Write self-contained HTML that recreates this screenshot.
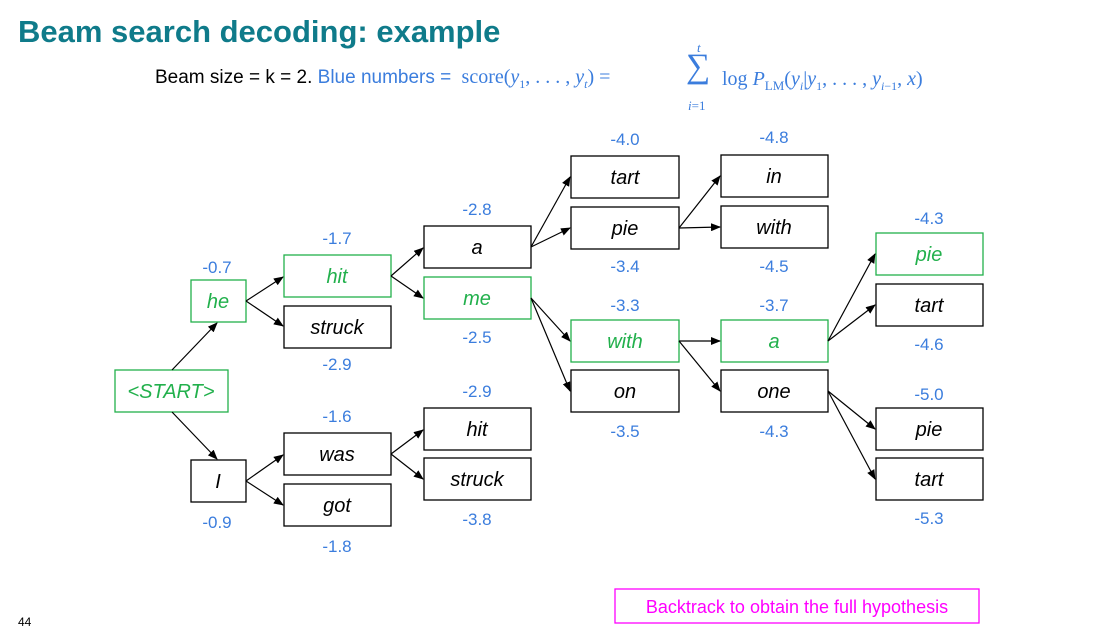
<!DOCTYPE html>
<html><head><meta charset="utf-8"><style>
body{margin:0;width:1101px;height:636px;background:#fff;overflow:hidden;font-family:"Liberation Sans",sans-serif}
.t{position:absolute;left:18px;top:14px;font-size:31px;font-weight:bold;color:#0f7b8a}
.sub{position:absolute;left:155px;top:66px;font-size:19px;color:#000;white-space:nowrap}
.b{color:#3b7ddd}
.f{font-family:"Liberation Serif",serif;color:#3b7ddd;font-size:20px}
</style></head><body>
<div class="t">Beam search decoding: example</div>
<div class="sub">Beam size = k = 2. <span class="b">Blue numbers =</span> <span class="f">&nbsp;score(<i>y</i><sub style="font-size:12px">1</sub>, . . . , <i>y<sub style="font-size:12px">t</sub></i>) = </span></div>
<div class="f" style="position:absolute;left:686px;top:48px;font-size:34px">∑</div>
<div class="f" style="position:absolute;left:697px;top:40px;font-size:13px"><i>t</i></div>
<div class="f" style="position:absolute;left:688px;top:98px;font-size:13px"><i>i</i>=1</div>
<div class="f" style="position:absolute;left:722px;top:68px;white-space:nowrap">log <i>P</i><sub style="font-size:13px">LM</sub>(<i>y<sub style="font-size:12px">i</sub></i>|<i>y</i><sub style="font-size:12px">1</sub>, . . . , <i>y</i><sub style="font-size:12px"><i>i</i>−1</sub>, <i>x</i>)</div>
<svg width="1101" height="636" style="position:absolute;left:0;top:0">
<defs><marker id="a" markerWidth="10" markerHeight="8" refX="9" refY="4" orient="auto" markerUnits="userSpaceOnUse"><path d="M0,0 L10,4 L0,8z" fill="#000"/></marker></defs>
<g fill="#fff" stroke-width="1.3">
<rect x="115" y="370" width="113" height="42" stroke="#22b04c"/>
<rect x="191" y="280" width="55" height="42" stroke="#22b04c"/>
<rect x="191" y="460" width="55" height="42" stroke="#000"/>
<rect x="284" y="255" width="107" height="42" stroke="#22b04c"/>
<rect x="284" y="306" width="107" height="42" stroke="#000"/>
<rect x="284" y="433" width="107" height="42" stroke="#000"/>
<rect x="284" y="484" width="107" height="42" stroke="#000"/>
<rect x="424" y="226" width="107" height="42" stroke="#000"/>
<rect x="424" y="277" width="107" height="42" stroke="#22b04c"/>
<rect x="424" y="408" width="107" height="42" stroke="#000"/>
<rect x="424" y="458" width="107" height="42" stroke="#000"/>
<rect x="571" y="156" width="108" height="42" stroke="#000"/>
<rect x="571" y="207" width="108" height="42" stroke="#000"/>
<rect x="571" y="320" width="108" height="42" stroke="#22b04c"/>
<rect x="571" y="370" width="108" height="42" stroke="#000"/>
<rect x="721" y="155" width="107" height="42" stroke="#000"/>
<rect x="721" y="206" width="107" height="42" stroke="#000"/>
<rect x="721" y="320" width="107" height="42" stroke="#22b04c"/>
<rect x="721" y="370" width="107" height="42" stroke="#000"/>
<rect x="876" y="233" width="107" height="42" stroke="#22b04c"/>
<rect x="876" y="284" width="107" height="42" stroke="#000"/>
<rect x="876" y="408" width="107" height="42" stroke="#000"/>
<rect x="876" y="458" width="107" height="42" stroke="#000"/>
<rect x="615" y="589" width="364" height="34" stroke="#f0f"/>
</g>
<g stroke="#000" stroke-width="1.2" marker-end="url(#a)" fill="none">
<line x1="172" y1="370" x2="217" y2="323"/>
<line x1="172" y1="412" x2="217" y2="459"/>
<line x1="246" y1="301" x2="283" y2="277"/>
<line x1="246" y1="301" x2="283" y2="326"/>
<line x1="246" y1="481" x2="283" y2="455"/>
<line x1="246" y1="481" x2="283" y2="505"/>
<line x1="391" y1="276" x2="423" y2="248"/>
<line x1="391" y1="276" x2="423" y2="298"/>
<line x1="391" y1="454" x2="423" y2="430"/>
<line x1="391" y1="454" x2="423" y2="479"/>
<line x1="531" y1="247" x2="570" y2="177"/>
<line x1="531" y1="247" x2="570" y2="228"/>
<line x1="531" y1="298" x2="570" y2="341"/>
<line x1="531" y1="298" x2="570" y2="391"/>
<line x1="679" y1="228" x2="720" y2="176"/>
<line x1="679" y1="228" x2="720" y2="227"/>
<line x1="679" y1="341" x2="720" y2="341"/>
<line x1="679" y1="341" x2="720" y2="391"/>
<line x1="828" y1="341" x2="875" y2="254"/>
<line x1="828" y1="341" x2="875" y2="305"/>
<line x1="828" y1="391" x2="875" y2="429"/>
<line x1="828" y1="391" x2="875" y2="479"/>
</g>
<g font-family="Liberation Sans,sans-serif" font-style="italic" font-size="20" text-anchor="middle">
<text x="171" y="398" fill="#22b04c">&lt;START&gt;</text>
<text x="218" y="308" fill="#22b04c">he</text>
<text x="218" y="488">I</text>
<text x="337" y="283" fill="#22b04c">hit</text>
<text x="337" y="334">struck</text>
<text x="337" y="461">was</text>
<text x="337" y="512">got</text>
<text x="477" y="254">a</text>
<text x="477" y="305" fill="#22b04c">me</text>
<text x="477" y="436">hit</text>
<text x="477" y="486">struck</text>
<text x="625" y="184">tart</text>
<text x="625" y="235">pie</text>
<text x="625" y="348" fill="#22b04c">with</text>
<text x="625" y="398">on</text>
<text x="774" y="183">in</text>
<text x="774" y="234">with</text>
<text x="774" y="348" fill="#22b04c">a</text>
<text x="774" y="398">one</text>
<text x="929" y="261" fill="#22b04c">pie</text>
<text x="929" y="312">tart</text>
<text x="929" y="436">pie</text>
<text x="929" y="486">tart</text>
</g>
<g font-family="Liberation Sans,sans-serif" font-size="17" fill="#3b7ddd" text-anchor="middle">
<text x="217" y="273">-0.7</text><text x="217" y="528">-0.9</text>
<text x="337" y="244">-1.7</text><text x="337" y="370">-2.9</text>
<text x="337" y="422">-1.6</text><text x="337" y="552">-1.8</text>
<text x="477" y="215">-2.8</text><text x="477" y="343">-2.5</text>
<text x="477" y="397">-2.9</text><text x="477" y="525">-3.8</text>
<text x="625" y="145">-4.0</text><text x="625" y="272">-3.4</text>
<text x="625" y="311">-3.3</text><text x="625" y="437">-3.5</text>
<text x="774" y="143">-4.8</text><text x="774" y="272">-4.5</text>
<text x="774" y="311">-3.7</text><text x="774" y="437">-4.3</text>
<text x="929" y="224">-4.3</text><text x="929" y="350">-4.6</text>
<text x="929" y="400">-5.0</text><text x="929" y="524">-5.3</text>
</g>
<text x="797" y="613" font-family="Liberation Sans,sans-serif" font-size="18" fill="#f0f" text-anchor="middle">Backtrack to obtain the full hypothesis</text>
<text x="18" y="626" font-family="Liberation Sans,sans-serif" font-size="12">44</text>
</svg>
</body></html>
